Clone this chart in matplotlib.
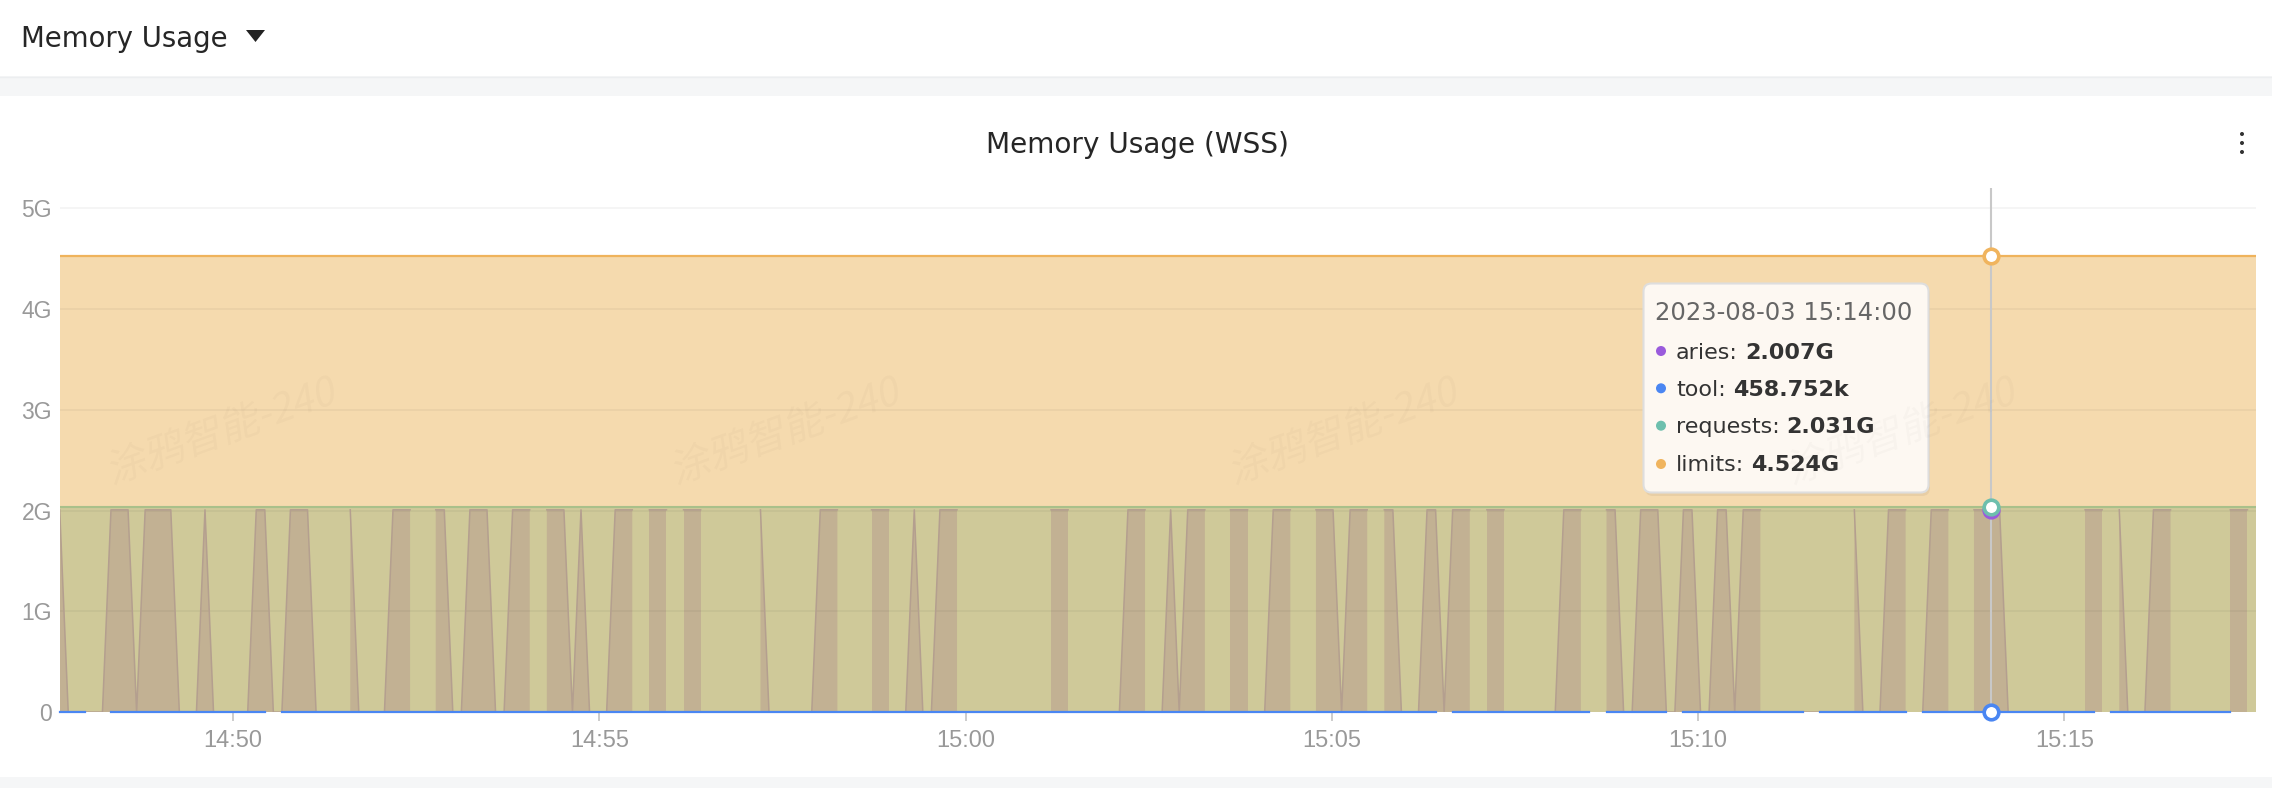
import numpy as np
import pandas as pd
import matplotlib
matplotlib.use('Agg')
import matplotlib.pyplot as plt
import matplotlib.dates as mdates
from matplotlib.patches import FancyBboxPatch, Rectangle, Polygon, Circle, PathPatch
from matplotlib.textpath import TextPath
from matplotlib.font_manager import FontProperties
from matplotlib.transforms import Affine2D

# ---- data (one sample every 7 s) ----
start_time = '2023-08-03 14:47:38'
step = '7s'
# aries: H = high, L = low, . = no data   (groups of 10 samples)
aries_pattern = ("HLLLLLHHHL HHHHLLLHLL LLLHHLLHHH LLL.HLLLLH HH..HHLLHH "
                 "HLLHHH.HHH LHLLLHHH.H HH.HHH.LLL L.HLLLLLLH HH.L.HHH.L "
                 "HLLHHH.LLL LLLLL.HHH. LLLLLHHH.L HLHHH..HHH .LHHH..HHH "
                 "LHHH.HHLLL HHLHHH.HHH .LLLLLHHH. .HHLLHHHLL HHLLHHLHHH "
                 ".LLLLLLLL. HLLLHHH.LH HH..HHHHLL LLLLLL.HHH .HLLLHHH.L "
                 "LLL.HHH.")
aries_high = 2.007   # G
aries_low = 0.0
# tool: - = value, . = no data
tool_pattern = ("----..---- ---------- -----.---- ---------- ---------- "
                "---------- ---------- ---------- ---------- ---------- "
                "---------- ---------- ---------- ---------- ---------- "
                "---------- --.------- ---------- .--------. ---------- "
                "-----.---- -------.-- ---------- ---------. ---------- "
                "-----...")
tool_value = 0.000458752   # G (458.752k)
requests_value = 2.031
limits_value = 4.524

tooltip_time = '2023-08-03 15:14:00'
tooltip_rows = [('aries', '2.007G', '#9a5bdc'),
                ('tool', '458.752k', '#4a86f2'),
                ('requests', '2.031G', '#6dbfad'),
                ('limits', '4.524G', '#f0b45e')]
y_ticks = [0, 1, 2, 3, 4, 5]
y_labels = ['0', '1G', '2G', '3G', '4G', '5G']

aries_pattern = aries_pattern.replace(' ', '')
tool_pattern = tool_pattern.replace(' ', '')
n = len(aries_pattern)
times = pd.date_range(start_time, periods=n, freq=step)
aries = np.array([{'H': aries_high, 'L': aries_low, '.': np.nan}[c] for c in aries_pattern])
tool = np.array([tool_value if c == '-' else np.nan for c in tool_pattern[:n]])
requests = np.full(n, requests_value)
limits = np.full(n, limits_value)

W, H = 2272, 788
fig = plt.figure(figsize=(W / 100, H / 100), dpi=100)
fig.patch.set_facecolor('white')

# background layer in pixel coords (y down)
bg = fig.add_axes([0, 0, 1, 1], zorder=0)
bg.set_xlim(0, W)
bg.set_ylim(H, 0)
bg.axis('off')
bg.add_patch(Rectangle((0, 76), W, 20, color='#f5f6f7', lw=0))
bg.plot([0, W], [76.5, 76.5], color='#eceef0', lw=1)
bg.add_patch(Rectangle((0, 777), W, 11, color='#f5f6f7', lw=0))
bg.text(21, 46.7, 'Memory Usage', fontsize=19.8, color='#262626',
        family='DejaVu Sans', va='baseline', ha='left')
bg.add_patch(Polygon([(246, 30), (265, 30), (255.5, 42)], closed=True, color='#222222', lw=0))
bg.text(1137.5, 152.7, 'Memory Usage (WSS)', fontsize=20.2, color='#262626',
        family='DejaVu Sans', va='baseline', ha='center')
for yy in (134, 143, 152):
    bg.add_patch(Circle((2242, yy), 2.0, color='#333333', lw=0))

# main chart
y0_px, ytop_px = 712.1, 188.0
left_px, right_px = 59.7, 2256.0
ax = fig.add_axes([left_px / W, (H - y0_px) / H, (right_px - left_px) / W, (y0_px - ytop_px) / H],
                  zorder=1)
ax.set_facecolor('none')
ax.set_xlim(times[0], times[-1])
ax.set_ylim(0, 5.2)

ax.fill_between(times, 0, limits, color='#f5daae', lw=0, zorder=1)
ax.fill_between(times, 0, requests, color='#cfc999', lw=0, zorder=2)
ax.fill_between(times, 0, aries, color='#c2b193', lw=0, zorder=3)
for g in y_ticks[1:]:
    ax.axhline(g, color='black', alpha=0.045, lw=1.3, zorder=4)
ax.plot(times, limits, color='#efb35c', lw=1.6, zorder=5)
ax.plot(times, requests, color='#a9c08a', lw=1.5, zorder=5)
ax.plot(times, aries, color='#b49f8f', lw=1.1, zorder=6)
ax.plot(times, tool, color='#4a86f2', lw=1.6, zorder=7, clip_on=False)

for s in ax.spines.values():
    s.set_visible(False)
ax.set_yticks(y_ticks)
ax.set_yticklabels(y_labels)
ax.tick_params(axis='y', length=0, pad=5.5, labelsize=16.5, labelcolor='#999999')
ax.xaxis.set_major_locator(mdates.MinuteLocator(byminute=range(0, 60, 5)))
ax.xaxis.set_major_formatter(mdates.DateFormatter('%H:%M'))
ax.tick_params(axis='x', length=6.5, width=1.4, color='#cccccc', pad=6.5,
               labelsize=17, labelcolor='#999999')
for lab in ax.get_xticklabels() + ax.get_yticklabels():
    lab.set_family('Liberation Sans')

# hover crosshair and markers
t_hover = pd.Timestamp(tooltip_time)
k = times.get_loc(t_hover)
ax.axvline(t_hover, color='#c8c8c8', lw=1.5, zorder=8)
for series, col in [(limits, '#f0b45e'), (aries, '#9a5bdc'), (requests, '#6dbfad'), (tool, '#4a86f2')]:
    ax.plot([times[k]], [series[k]], marker='o', ms=10.5, mew=2.6, mfc='white', mec=col,
            zorder=9, clip_on=False)

# overlay: tooltip + watermark
ov = fig.add_axes([0, 0, 1, 1], zorder=2)
ov.set_xlim(0, W)
ov.set_ylim(H, 0)
ov.axis('off')
ov.patch.set_alpha(0)

ov.add_patch(FancyBboxPatch((1645, 286), 285, 210, boxstyle='round,pad=0,rounding_size=8',
                            fc='black', alpha=0.05, lw=0))
ov.add_patch(FancyBboxPatch((1643.5, 283.5), 285, 209, boxstyle='round,pad=0,rounding_size=8',
                            fc='#fdf8f2', ec='#dedede', lw=1.5))
ov.text(1655, 320, tooltip_time, fontsize=17.5, color='#666666', family='DejaVu Sans',
        va='baseline', ha='left')
fig.canvas.draw()
renderer = fig.canvas.get_renderer()
row_base = [359.3, 396.0, 433.3, 470.7]
dot_y = [351.0, 388.3, 425.7, 464.0]
for (name, val, col), yb, yd in zip(tooltip_rows, row_base, dot_y):
    ov.add_patch(Circle((1661, yd), 5, color=col, lw=0))
    t = ov.text(1676, yb, name + ':', fontsize=16, color='#333333', family='DejaVu Sans',
                va='baseline', ha='left')
    bb = t.get_window_extent(renderer)
    x_end = ov.transData.inverted().transform((bb.x1, bb.y0))[0]
    ov.text(x_end + 7, yb, val, fontsize=16, color='#333333', family='DejaVu Sans',
            fontweight='bold', va='baseline', ha='left')

# faint watermark
wm_prop = FontProperties(family='Noto Sans CJK SC')
for cx in (222, 786, 1344, 1902):
    tp = TextPath((0, 0), '涂鸦智能-240', size=40, prop=wm_prop)
    ext = tp.get_extents()
    tr = (Affine2D().translate(-(ext.x0 + ext.x1) / 2, -(ext.y0 + ext.y1) / 2)
          .skew_deg(12, 0).rotate_deg(20).scale(1, -1).translate(cx, 428))
    ov.add_patch(PathPatch(tr.transform_path(tp), fc='black', alpha=0.02, lw=0))

fig.savefig('out.png', dpi=100, facecolor='white')
